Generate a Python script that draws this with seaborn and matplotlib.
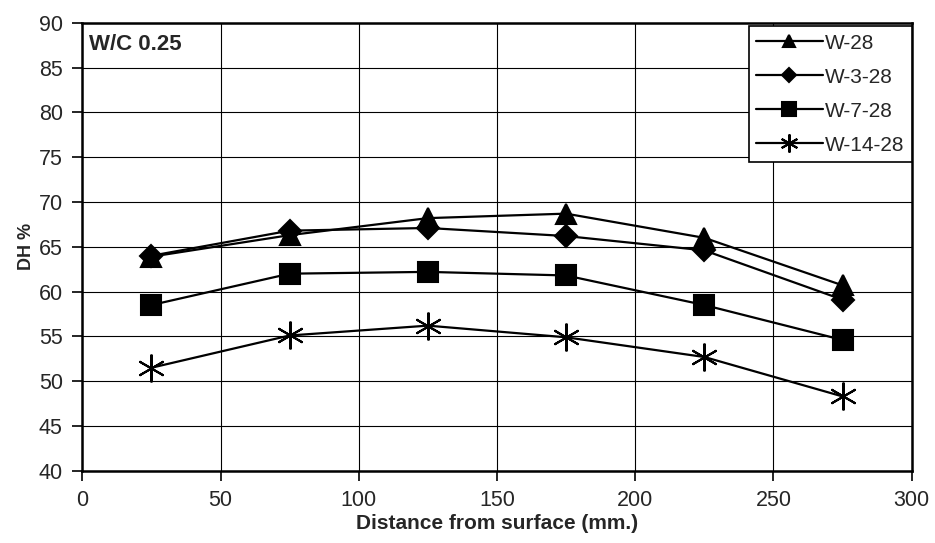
import matplotlib
matplotlib.use('Agg')
import matplotlib.pyplot as plt
import seaborn as sns
import pandas as pd

# 데이터
distance = [25, 75, 125, 175, 225, 275]
w_28 = [63.9, 66.3, 68.2, 68.7, 66.0, 60.7]
w_3_28 = [64.0, 66.8, 67.1, 66.2, 64.6, 59.1]
w_7_28 = [58.5, 62.0, 62.2, 61.8, 58.5, 54.6]
w_14_28 = [51.5, 55.1, 56.2, 54.9, 52.7, 48.3]

series_names = ['W-28', 'W-3-28', 'W-7-28', 'W-14-28']
series_values = [w_28, w_3_28, w_7_28, w_14_28]
markers = ['^', 'D', 's', (6, 2, 0)]
marker_sizes = [14, 11, 15, 20]

x_ticks = [0, 50, 100, 150, 200, 250, 300]
y_ticks = [40, 45, 50, 55, 60, 65, 70, 75, 80, 85, 90]

sns.set_style('white')
plt.rcParams['font.family'] = ['Liberation Sans', 'DejaVu Sans']

fig, ax = plt.subplots(figsize=(9.35, 5.43), dpi=100)
fig.subplots_adjust(left=0.088, right=0.975, top=0.958, bottom=0.133)

for name, vals, m, ms in zip(series_names, series_values, markers, marker_sizes):
    df = pd.DataFrame({'distance': distance, 'DH': vals})
    sns.lineplot(data=df, x='distance', y='DH', ax=ax, color='black',
                 marker=m, markersize=ms, linewidth=1.6, label=name,
                 markeredgecolor='black', markeredgewidth=1.5)

ax.set_xlim(0, 300)
ax.set_ylim(40, 90)
ax.set_xticks(x_ticks)
ax.set_yticks(y_ticks)
ax.grid(True, color='black', linewidth=0.8)
ax.set_axisbelow(True)
for sp in ax.spines.values():
    sp.set_color('black')
    sp.set_linewidth(1.8)
ax.tick_params(axis='both', direction='out', length=7, width=1.2,
               labelsize=15.5, color='black', pad=7, left=True, bottom=True)

ax.set_xlabel('Distance from surface (mm.)', fontsize=15, fontweight='bold', labelpad=2)
ax.set_ylabel('DH %', fontsize=13, fontweight='bold', labelpad=3)
ax.text(0.008, 0.975, 'W/C 0.25', transform=ax.transAxes, fontsize=16,
        fontweight='bold', ha='left', va='top')

leg = ax.legend(loc='upper right', bbox_to_anchor=(1.0, 0.992), fontsize=15,
                frameon=True, fancybox=False, edgecolor='black', framealpha=1,
                handlelength=3.2, handletextpad=0.1, labelspacing=0.72,
                borderpad=0.35, borderaxespad=0.0, markerscale=0.65)
leg.get_frame().set_linewidth(1.2)

fig.savefig('out.png', dpi=100)
